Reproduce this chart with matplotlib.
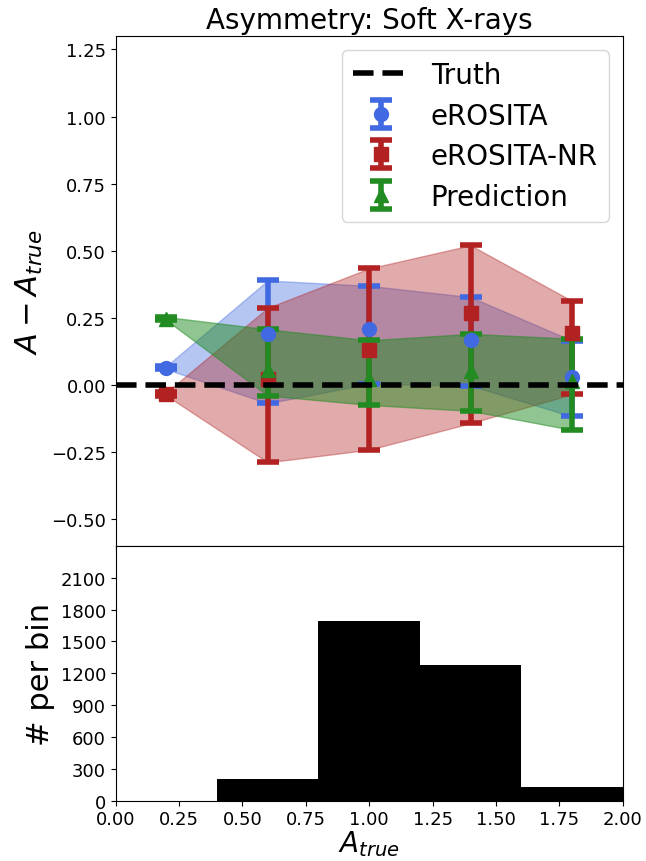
import matplotlib
matplotlib.use("Agg")
import matplotlib.pyplot as plt
import numpy as np

x = [0.2, 0.6, 1.0, 1.4, 1.8]

ero_y = [0.064, 0.191, 0.209, 0.166, 0.029]
ero_lo = [0.058, -0.069, 0.004, -0.003, -0.118]
ero_hi = [0.070, 0.389, 0.369, 0.327, 0.165]

nr_y = [-0.034, 0.020, 0.131, 0.266, 0.195]
nr_lo = [-0.040, -0.289, -0.242, -0.143, -0.035]
nr_hi = [-0.028, 0.287, 0.434, 0.520, 0.313]

pr_y = [0.247, 0.054, 0.022, 0.050, 0.016]
pr_lo = [0.241, -0.040, -0.075, -0.097, -0.168]
pr_hi = [0.253, 0.207, 0.166, 0.190, 0.172]

hist_edges = [0.0, 0.4, 0.8, 1.2, 1.6, 2.0]
hist_counts = [0, 200, 1690, 1280, 130]

fig = plt.figure(figsize=(6.46, 8.62), dpi=100)
gs = fig.add_gridspec(2, 1, height_ratios=[2, 1], hspace=0,
                      left=0.179, right=0.964, top=0.957, bottom=0.070)
ax = fig.add_subplot(gs[0])
axh = fig.add_subplot(gs[1], sharex=ax)

ax.axhline(0, color="black", ls="--", lw=4, label="Truth", zorder=5)

series = [
    ("eROSITA", ero_y, ero_lo, ero_hi, "royalblue", "o", 0.38),
    ("eROSITA-NR", nr_y, nr_lo, nr_hi, "firebrick", "s", 0.38),
    ("Prediction", pr_y, pr_lo, pr_hi, "forestgreen", "^", 0.5),
]
for name, yv, lo, hi, col, mk, a in series:
    yv = np.array(yv); lo = np.array(lo); hi = np.array(hi)
    ax.fill_between(x, lo, hi, color=col, alpha=a, zorder=1)
    ax.errorbar(x, yv, yerr=[yv - lo, hi - yv], fmt=mk, color=col,
                ms=10, elinewidth=4, capsize=8, capthick=4, label=name, zorder=3)

ax.set_ylim(-0.6, 1.3)
ax.set_xlim(0, 2)
ax.set_yticks([-0.5, -0.25, 0, 0.25, 0.5, 0.75, 1.0, 1.25])
ax.set_ylabel(r"$A - A_{true}$", fontsize=22)
ax.set_title("Asymmetry: Soft X-rays", fontsize=20)
ax.tick_params(labelsize=13)
plt.setp(ax.get_xticklabels(), visible=False)
ax.legend(loc="upper right", fontsize=20, handlelength=2.0, labelspacing=0.45)

axh.stairs(hist_counts, hist_edges, fill=True, color="black")
axh.set_ylim(0, 2400)
axh.set_yticks([0, 300, 600, 900, 1200, 1500, 1800, 2100])
axh.set_xticks([0, 0.25, 0.5, 0.75, 1.0, 1.25, 1.5, 1.75, 2.0])
axh.set_xlim(0, 2)
axh.set_ylabel("# per bin", fontsize=22)
axh.set_xlabel(r"$A_{true}$", fontsize=20, labelpad=0)
axh.tick_params(labelsize=13)

fig.savefig("out.png", dpi=100)
